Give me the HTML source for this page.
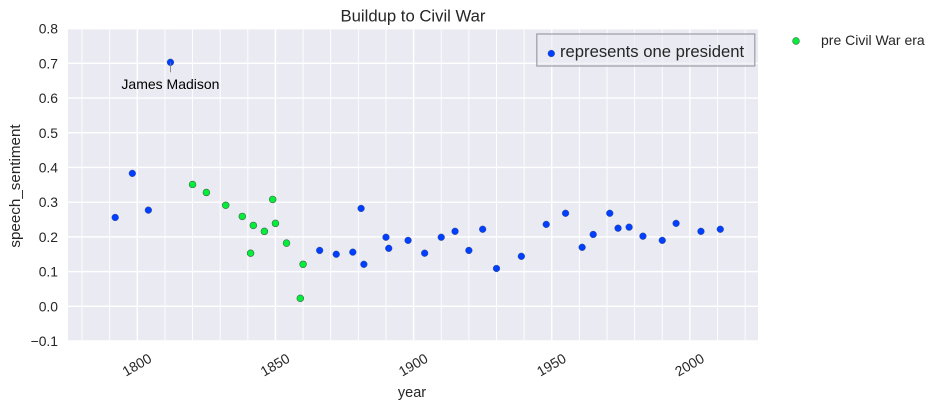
<!DOCTYPE html>
<html>
<head>
<meta charset="utf-8">
<style>
html,body{margin:0;padding:0;background:#fff;width:940px;height:409px;overflow:hidden}
svg{display:block}
text{font-family:"Liberation Sans",sans-serif;fill:#262626}
</style>
</head>
<body>
<svg id="chart" width="940" height="409" viewBox="0 0 940 409" xmlns="http://www.w3.org/2000/svg">
  <rect x="68" y="28.8" width="690" height="312" fill="#EAEAF2"/>
  <g id="grid"></g>
  <g id="ticks"></g>
  <g id="marks"></g>
  <text x="413" y="21.5" font-size="16.7" text-anchor="middle">Buildup to Civil War</text>
  <text x="412" y="397" font-size="14.5" text-anchor="middle">year</text>
  <text transform="translate(20,186) rotate(-90)" font-size="15.2" text-anchor="middle">speech_sentiment</text>
  <g id="annotation"></g>
  <g>
    <rect x="536.8" y="34" width="218" height="32" fill="#EAEAF2" fill-opacity="0.6" stroke="#9c9ca4" stroke-width="1.2"/>
    <circle cx="551.3" cy="53.5" r="3.4" fill="#003FFF" stroke="#44506a" stroke-width="0.4"/>
    <text x="560" y="57" font-size="16.65">represents one president</text>
  </g>
  <g>
    <circle cx="796" cy="41" r="3.4" fill="#03ED3A" stroke="#3a6a48" stroke-width="0.6"/>
    <text x="821" y="45" font-size="14">pre Civil War era</text>
  </g>
</svg>
<script>
const blueYears = [1792, 1798.2, 1804, 1812, 1866, 1872, 1878, 1881, 1882, 1890, 1891, 1898, 1904, 1910, 1915, 1920, 1925, 1930, 1939, 1948, 1955, 1961, 1965, 1971, 1974, 1978, 1983, 1990, 1995, 2004, 2011];
const blueValues = [0.256, 0.383, 0.277, 0.703, 0.161, 0.150, 0.156, 0.282, 0.121, 0.199, 0.167, 0.190, 0.153, 0.199, 0.216, 0.161, 0.222, 0.109, 0.144, 0.236, 0.268, 0.170, 0.207, 0.268, 0.225, 0.228, 0.202, 0.190, 0.239, 0.216, 0.222];
const greenYears = [1820, 1825, 1832, 1838, 1841, 1842, 1846, 1849, 1850, 1854, 1859, 1860];
const greenValues = [0.351, 0.328, 0.291, 0.259, 0.153, 0.233, 0.216, 0.308, 0.239, 0.182, 0.023, 0.121];
const xTickLabels = [1800, 1850, 1900, 1950, 2000];
const xMinorTicks = [1780, 1790, 1810, 1820, 1830, 1840, 1860, 1870, 1880, 1890, 1910, 1920, 1930, 1940, 1960, 1970, 1980, 1990, 2010, 2020];
const yTickLabels = [0.8, 0.7, 0.6, 0.5, 0.4, 0.3, 0.2, 0.1, 0.0, -0.1];
const annotationPoint = {year: 1812, value: 0.703, label: "James Madison"};

const NS = "http://www.w3.org/2000/svg";
function xScale(year) { return 137.3 + (year - 1800) * 2.763; }
function yScale(v) { return 306.3 - v * 347.1; }
function make(tag, parent, attrs) {
  const el = document.createElementNS(NS, tag);
  for (const k in attrs) el.setAttribute(k, attrs[k]);
  parent.appendChild(el);
  return el;
}
const grid = document.getElementById("grid");
const ticks = document.getElementById("ticks");
const marks = document.getElementById("marks");
const annotation = document.getElementById("annotation");

xMinorTicks.forEach(function (t) {
  const l = make("line", grid, {x1: xScale(t), x2: xScale(t), y1: 28.8, y2: 340.8, stroke: "#fff", "stroke-width": 0.9});
  
  
});
xTickLabels.forEach(function (t) {
  const l = make("line", grid, {x1: xScale(t), x2: xScale(t), y1: 28.8, y2: 340.8, stroke: "#fff", "stroke-width": 1.4});
  
  
  const x = xScale(t) + 2, y = 369;
  const txt = make("text", ticks, {x: x, y: y, "font-size": 13.9, "text-anchor": "middle", transform: "rotate(-30 " + x + " " + y + ")"});
  txt.textContent = String(t);
  
  
});
yTickLabels.forEach(function (v) {
  const y = yScale(v);
  const l = make("line", grid, {x1: 68, x2: 758, y1: y, y2: y, stroke: "#fff", "stroke-width": 1.4});
  
  
  const txt = make("text", ticks, {x: 58, y: y + 5, "font-size": 13.9, "text-anchor": "end"});
  txt.textContent = v < 0 ? "\u2212" + Math.abs(v).toFixed(1) : v.toFixed(1);
  
  
});

const ax = xScale(annotationPoint.year), ay = yScale(annotationPoint.value);
const leader = make("line", annotation, {x1: ax, x2: ax, y1: ay, y2: ay + 10, stroke: "#777", "stroke-width": 0.8});


const annText = make("text", annotation, {x: ax, y: ay + 26.5, "font-size": 14, "text-anchor": "middle", style: "fill:#000"});
annText.textContent = annotationPoint.label;



blueYears.forEach(function (yr, i) {
  const c = make("circle", marks, {cx: xScale(yr), cy: yScale(blueValues[i]), r: 3.4, fill: "#003FFF", stroke: "#44506a", "stroke-width": 0.4});
  
  
});
greenYears.forEach(function (yr, i) {
  const c = make("circle", marks, {cx: xScale(yr), cy: yScale(greenValues[i]), r: 3.4, fill: "#03ED3A", stroke: "#3a6a48", "stroke-width": 0.6});
  
  
});
</script>
</body>
</html>
